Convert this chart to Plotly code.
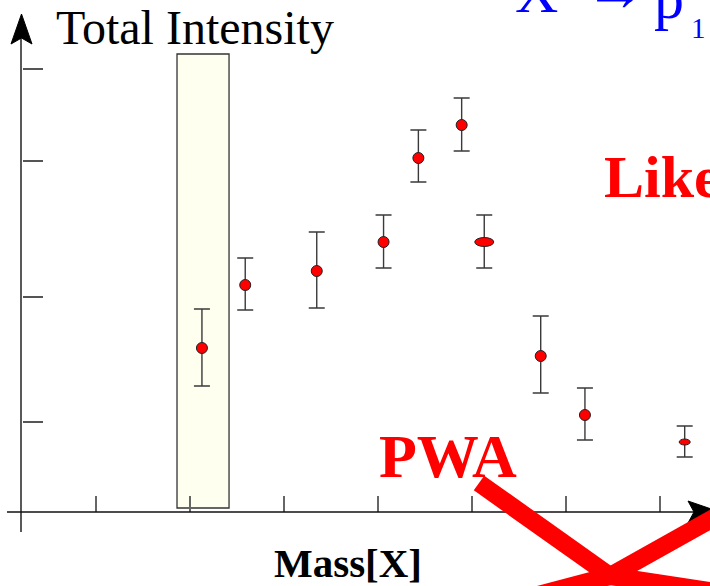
import plotly.graph_objects as go

# ---------------- data (mass in arbitrary bins, intensity in arbitrary units) ----------------
mass = [2.13, 2.59, 3.35, 4.06, 4.43, 4.89, 5.13, 5.73, 6.20, 7.26]
intensity = [16.4, 22.7, 24.1, 27.0, 35.4, 38.7, 27.0, 15.6, 9.7, 7.0]
err_plus = [3.9, 2.7, 3.9, 2.7, 2.8, 2.7, 2.7, 4.0, 2.7, 1.6]
err_minus = [3.8, 2.5, 3.7, 2.6, 2.4, 2.6, 2.6, 3.7, 2.5, 1.5]
x_ticks = [1, 2, 3, 4, 5, 6, 7]
y_ticks = [9.0, 21.5, 35.1, 44.3]

W, H = 710, 586
X_RANGE = [-0.016, 7.529]
Y_RANGE = [-7.4, 51.2]

def px(x):
    return x / W

def py(y):
    return 1 - y / H

SERIF = "Liberation Serif, Times New Roman, serif"

# points drawn as ellipses (index: (width px, height px))
ellipse_pts = {6: (19, 9), 9: (11, 6)}
marker_sizes = [0 if i in ellipse_pts else 11 for i in range(len(mass))]

fig = go.Figure()

fig.add_trace(go.Scatter(
    x=mass, y=intensity, mode="markers",
    marker=dict(size=marker_sizes, color="#ff0000", opacity=1,
                line=dict(color="#222", width=1)),
    error_y=dict(type="data", symmetric=False, array=err_plus, arrayminus=err_minus,
                 color="#3a3a3a", thickness=1.4, width=8),
    showlegend=False, hoverinfo="skip",
))

shapes = []
# highlighted bin around the first point
shapes.append(dict(type="rect", xref="x", yref="y", layer="below",
                   x0=mass[0] - 0.265, x1=mass[0] + 0.288, y0=0.4, y1=45.8,
                   fillcolor="#fffff0", line=dict(color="#333", width=1.3)))
# ellipse markers
for i, (ew, eh) in ellipse_pts.items():
    shapes.append(dict(type="circle", xref="x", yref="y", xsizemode="pixel", ysizemode="pixel",
                       xanchor=mass[i], yanchor=intensity[i],
                       x0=-ew / 2, x1=ew / 2, y0=-eh / 2, y1=eh / 2,
                       fillcolor="#ff0000", line=dict(color="#222", width=1)))
# axis lines
shapes.append(dict(type="line", xref="paper", yref="paper",
                   x0=px(21), x1=px(21), y0=py(532), y1=py(30), line=dict(color="#222", width=1.5)))
shapes.append(dict(type="line", xref="paper", yref="paper",
                   x0=px(7), x1=px(700), y0=py(512), y1=py(512), line=dict(color="#111", width=1.5)))
# arrowheads
def path(pts):
    s = "M {} {}".format(px(pts[0][0]), py(pts[0][1]))
    for a, b in pts[1:]:
        s += " L {} {}".format(px(a), py(b))
    return s + " Z"

shapes.append(dict(type="path", xref="paper", yref="paper",
                   path=path([(21.5, 14), (32, 44), (21.5, 38), (11, 44)]),
                   fillcolor="#000", line=dict(color="#000", width=1)))
shapes.append(dict(type="path", xref="paper", yref="paper",
                   path=path([(720, 512), (688, 501), (694, 512), (688, 523)]),
                   fillcolor="#000", line=dict(color="#000", width=1)))
# red vertex lines (decoration)
vx, vy = 610, 576
for ex, ey in [(479, 483), (735, 506), (470, 613), (770, 600)]:
    shapes.append(dict(type="line", xref="paper", yref="paper",
                       x0=px(vx), y0=py(vy), x1=px(ex), y1=py(ey),
                       line=dict(color="#ff0000", width=18)))

annotations = [
    dict(text="Total Intensity", x=px(54), y=py(27), xanchor="left", yanchor="middle",
         font=dict(family=SERIF, size=48, color="#000")),
    dict(text="Mass[X]", x=px(348), y=py(563), xanchor="center", yanchor="middle",
         font=dict(family=SERIF, size=41, color="#000", weight="bold")),
    dict(text="PWA", x=px(377), y=py(456), xanchor="left", yanchor="middle",
         font=dict(family=SERIF, size=62, color="#ff0000", weight="bold")),
    dict(text="Likelihood", x=px(602), y=py(177), xanchor="left", yanchor="middle",
         font=dict(family=SERIF, size=60, color="#ff0000", weight="bold")),
    dict(text="X", x=px(513), y=py(-8), xanchor="left", yanchor="middle",
         font=dict(family=SERIF, size=60, color="#0000ff")),
    dict(text="→", x=px(647), y=py(-10), xanchor="right", yanchor="middle",
         font=dict(family=SERIF, size=60, color="#0000ff")),
    dict(text="p", x=px(652), y=py(-2), xanchor="left", yanchor="middle",
         font=dict(family=SERIF, size=60, color="#0000ff")),
    dict(text="1", x=px(689), y=py(28), xanchor="left", yanchor="middle",
         font=dict(family=SERIF, size=29, color="#0000ff")),
]
for a in annotations:
    a.update(xref="paper", yref="paper", showarrow=False)

fig.update_layout(
    width=W, height=H, margin=dict(l=0, r=0, t=0, b=0),
    paper_bgcolor="white", plot_bgcolor="white",
    shapes=shapes, annotations=annotations, showlegend=False,
    xaxis=dict(range=X_RANGE, domain=[0, 1], anchor="free", position=py(512),
               showgrid=False, zeroline=False, showline=False, showticklabels=False,
               tickmode="array", tickvals=x_ticks, ticks="inside", ticklen=16,
               tickcolor="#666", tickwidth=1.5),
    yaxis=dict(range=Y_RANGE, domain=[0, 1], anchor="free", position=px(22),
               showgrid=False, zeroline=False, showline=False, showticklabels=False,
               tickmode="array", tickvals=y_ticks, ticks="inside", ticklen=20,
               tickcolor="#555", tickwidth=1.5),
)

fig.write_html("out.html")
